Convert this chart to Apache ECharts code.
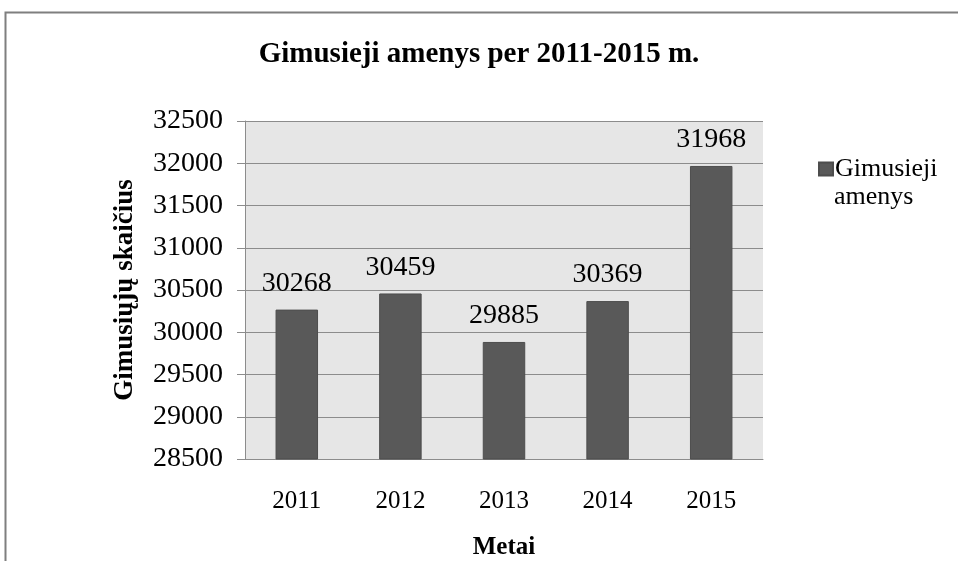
<!DOCTYPE html>
<html><head><meta charset="utf-8">
<script src="https://cdn.jsdelivr.net/npm/echarts@6/dist/echarts.min.js"></script>
<style>html,body{margin:0;padding:0;background:#fff}#c{width:958px;height:561px}</style>
</head><body><div id="c"></div>
<script>
const categories = ['2011','2012','2013','2014','2015'];
const births = [30268, 30459, 29885, 30369, 31968];
const seriesName = 'Gimusieji amenys';
const legendLines = ['Gimusieji', 'amenys'];
const titleText = 'Gimusieji amenys per 2011-2015 m.';
const yName = 'Gimusiųjų skaičius';
const xName = 'Metai';
const F = '"Liberation Serif","Times New Roman",serif';
const chart = echarts.init(document.getElementById('c'));
chart.setOption({
  animation:false,
  backgroundColor:'#fff',
  graphic:[
    {type:'rect',shape:{x:5.5,y:12.5,width:1000,height:600},style:{fill:'none',stroke:'#7f7f7f',lineWidth:2},z:-1},
    {type:'text',left:834,top:184,style:{text:legendLines[1],font:'26px '+F,fill:'#000'}}
  ],
  title:{text:titleText,left:'center',top:35,textStyle:{fontFamily:F,fontSize:29,fontWeight:'bold',color:'#000'}},
  legend:{data:[{name:seriesName,icon:'rect'}],left:813,top:151,itemWidth:14,itemHeight:13,itemGap:4,
    formatter:function(){return legendLines[0];},
    textStyle:{fontFamily:F,fontSize:26,color:'#000',padding:[0,0,0,-3]}},
  grid:{left:245,right:195,top:121,bottom:102,show:true,backgroundColor:'#e6e6e6',borderWidth:0,
    containLabel:false,outerBoundsMode:'none'},
  xAxis:{type:'category',data:categories,
    axisLine:{lineStyle:{color:'#8c8c8c'}},axisTick:{show:false},
    axisLabel:{fontFamily:F,fontSize:25,color:'#000',margin:30},
    name:xName,nameLocation:'middle',nameGap:76,
    nameTextStyle:{fontFamily:F,fontSize:25,fontWeight:'bold',color:'#000'}},
  yAxis:{type:'value',min:28500,max:32500,interval:500,
    axisLine:{show:true,lineStyle:{color:'#8c8c8c'}},
    axisTick:{show:true,length:8,inside:false,lineStyle:{color:'#8c8c8c'}},
    splitLine:{lineStyle:{color:'#8c8c8c'}},
    axisLabel:{fontFamily:F,fontSize:28,color:'#000',margin:22,formatter:function(v){return String(v);}},
    name:yName,nameLocation:'middle',nameGap:106,
    nameTextStyle:{fontFamily:F,fontSize:27,fontWeight:'bold',color:'#000'}},
  series:[{name:seriesName,type:'bar',data:births,barWidth:'41%',
    itemStyle:{color:'#595959',borderColor:'#4d4d4d',borderWidth:1},
    label:{show:true,position:'top',distance:12,fontFamily:F,fontSize:28,color:'#000'}}]
});
</script></body></html>
